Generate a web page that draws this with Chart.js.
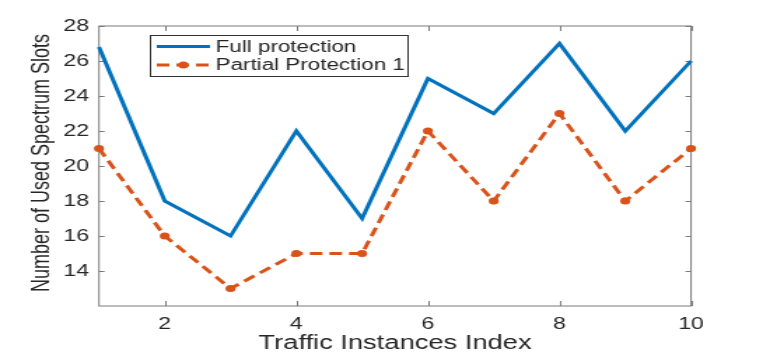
<!DOCTYPE html>
<html>
<head>
<meta charset="utf-8">
<script src="https://cdn.jsdelivr.net/npm/chart.js@4.4.0/dist/chart.umd.min.js"></script>
<style>
  html, body { margin: 0; padding: 0; background: #fff; overflow: hidden; }
  #wrap { width: 545px; height: 354px; transform: scaleX(1.4); transform-origin: 0 0; }
</style>
</head>
<body>
<div id="wrap"><canvas id="chart" width="545" height="354"></canvas></div>
<script>
// data
const indices = [1, 2, 3, 4, 5, 6, 7, 8, 9, 10];
const fullProtection = [26.8, 18, 16, 22, 17, 25, 23, 27, 22, 26];
const partialProtection = [21, 16, 13, 15, 15, 22, 18, 23, 18, 21];
const xTicks = [2, 4, 6, 8, 10];
const yTicks = [14, 16, 18, 20, 22, 24, 26, 28];

const BLUE = '#0072BD';
const ORANGE = '#D95319';
const AXIS = '#7a7a7a';
const TEXT = '#262626';
const FONT = '"Liberation Sans", Arial, sans-serif';

const toPoints = arr => arr.map((v, i) => ({ x: indices[i], y: v }));

// box, inner ticks, legend and axis titles, MATLAB style
const matlabFrame = {
    id: 'matlabFrame',
    beforeDatasetsDraw(chart) {
        const { ctx, chartArea: a, scales } = chart;
        ctx.save();
        ctx.strokeStyle = AXIS;
        ctx.lineWidth = 1;
        ctx.strokeRect(a.left, a.top, a.right - a.left, a.bottom - a.top);
        ctx.beginPath();
        xTicks.forEach(v => {
            const px = Math.round(scales.x.getPixelForValue(v)) + 0.5;
            ctx.moveTo(px, a.bottom); ctx.lineTo(px, a.bottom - 5);
            ctx.moveTo(px, a.top); ctx.lineTo(px, a.top + 5);
        });
        yTicks.forEach(v => {
            const py = Math.round(scales.y.getPixelForValue(v)) + 0.5;
            ctx.moveTo(a.left, py); ctx.lineTo(a.left + 4, py);
            ctx.moveTo(a.right, py); ctx.lineTo(a.right - 4, py);
        });
        ctx.stroke();
        ctx.restore();
    },
    afterDatasetsDraw(chart) {
        const { ctx } = chart;
        const ds = chart.data.datasets;
        const bx = 107, by = 35, bw = 184, bh = 41;
        ctx.save();
        ctx.fillStyle = '#fff';
        ctx.fillRect(bx, by, bw, bh);
        ctx.strokeStyle = '#333';
        ctx.lineWidth = 1;
        ctx.strokeRect(bx + 0.5, by + 0.5, bw, bh);

        const rows = [46.5, 65];
        ctx.font = '16px ' + FONT;
        ctx.fillStyle = TEXT;
        ctx.textBaseline = 'middle';
        ds.forEach((d, i) => {
            const y = rows[i];
            ctx.strokeStyle = d.borderColor;
            ctx.lineWidth = d.borderWidth;
            ctx.setLineDash(d.borderDash || []);
            ctx.beginPath();
            ctx.moveTo(112, y); ctx.lineTo(150, y);
            ctx.stroke();
            ctx.setLineDash([]);
            if (d.pointRadius > 0) {
                ctx.fillStyle = d.borderColor;
                ctx.beginPath();
                ctx.arc(131, y, d.pointRadius, 0, Math.PI * 2);
                ctx.fill();
            }
            ctx.fillStyle = TEXT;
            ctx.fillText(d.label, 154, y + 1);
        });

        // axis titles
        ctx.font = '19.5px ' + FONT;
        ctx.textAlign = 'center';
        ctx.textBaseline = 'alphabetic';
        ctx.fillText('Traffic Instances Index', (chart.chartArea.left + chart.chartArea.right) / 2, 349);
        ctx.font = '18px ' + FONT;
        ctx.translate(35, 163);
        ctx.rotate(-Math.PI / 2);
        ctx.fillText('Number of Used Spectrum Slots', 0, 0);
        ctx.restore();
    }
};

new Chart(document.getElementById('chart'), {
    type: 'line',
    data: {
        datasets: [{
            label: 'Full protection',
            data: toPoints(fullProtection),
            borderColor: BLUE,
            backgroundColor: BLUE,
            borderWidth: 3,
            pointRadius: 0,
            tension: 0,
            clip: false
        }, {
            label: 'Partial Protection 1',
            data: toPoints(partialProtection),
            borderColor: ORANGE,
            backgroundColor: ORANGE,
            borderWidth: 3,
            borderDash: [9, 5],
            pointRadius: 3.6,
            pointBackgroundColor: ORANGE,
            pointBorderWidth: 0,
            tension: 0,
            clip: false
        }]
    },
    options: {
        responsive: false,
        animation: false,
        layout: { padding: { left: 0, right: 51.4, top: 26, bottom: 0 } },
        plugins: {
            legend: { display: false },
            tooltip: { enabled: false }
        },
        scales: {
            x: {
                type: 'linear',
                min: 1,
                max: 10,
                afterBuildTicks: s => { s.ticks = xTicks.map(v => ({ value: v })); },
                afterFit: s => { s.height = 48; },
                grid: { display: false, drawTicks: false },
                border: { display: false },
                ticks: { color: TEXT, font: { family: FONT, size: 16.5 }, padding: 9, maxRotation: 0 }
            },
            y: {
                min: 12,
                max: 28,
                afterBuildTicks: s => { s.ticks = yTicks.map(v => ({ value: v })); },
                afterFit: s => { s.width = 70.7; },
                grid: { display: false, drawTicks: false },
                border: { display: false },
                ticks: { color: TEXT, font: { family: FONT, size: 16.5 }, padding: 7 }
            }
        }
    },
    plugins: [matlabFrame]
});
</script>
</body>
</html>
